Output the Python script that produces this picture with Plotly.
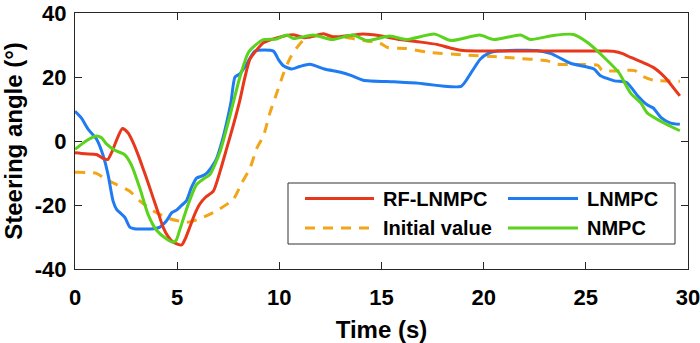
import plotly.graph_objects as go

# Time axis (s) and steering angle (deg) for each controller
t_rf = [0, 0.5, 1.05, 1.4, 1.6, 1.8, 2.05, 2.32, 2.6, 2.84, 3.1, 3.33, 3.6, 3.82, 4.05, 4.31,
        4.55, 4.8, 5.0, 5.22, 5.4, 5.62, 5.85, 6.11, 6.4, 6.77, 7.1, 7.42, 7.75, 8.07, 8.3,
        8.56, 8.9, 9.22, 9.87, 10.69, 11.2, 11.5, 12.16, 12.65, 13.5, 14.1, 15.0, 15.9, 16.8,
        17.7, 18.4, 19.0, 20.0, 22.0, 24.0, 26.0, 26.4, 26.8, 27.2, 27.8, 28.3, 28.7, 29.0,
        29.3, 29.6]
y_rf = [-3.7, -4.0, -4.2, -5.5, -5.8, -3.5, 0.5, 3.9, 2.5, -0.4, -4.5, -8.6, -13.5, -17.7,
        -22.0, -26.9, -29.8, -31.6, -32.2, -32.5, -30.5, -26.9, -23.0, -19.7, -17.5, -15.7,
        -9.5, -2.4, 5.0, 12.8, 19.5, 25.6, 28.5, 30.7, 32.2, 33.2, 32.3, 32.5, 33.5, 32.5,
        33.0, 33.4, 32.8, 31.7, 31.0, 30.2, 29.0, 28.3, 28.1, 28.1, 28.1, 28.1, 28.0, 27.3,
        26.1, 24.5, 23.0, 21.0, 19.0, 16.5, 14.1]

t_ln = [0, 0.31, 0.64, 1.05, 1.37, 1.62, 1.86, 2.05, 2.19, 2.44, 2.68, 2.9, 3.2, 3.7, 4.15,
        4.48, 4.75, 4.97, 5.2, 5.45, 5.7, 5.95, 6.2, 6.44, 6.7, 6.93, 7.2, 7.42, 7.63, 7.83,
        8.07, 8.4, 8.81, 9.71, 9.95, 10.2, 10.6, 11.0, 11.5, 12.2, 13.0, 13.5, 14.1, 15.6,
        16.7, 18.9, 19.35, 19.84, 20.2, 20.66, 22.6, 23.3, 24.25, 25.4, 25.7, 26.4, 27.0,
        27.5, 28.0, 28.3, 28.7, 29.15, 29.6]
y_ln = [9.3, 7.2, 3.7, 0.6, -4.4, -10.6, -18.7, -21.5, -22.3, -23.9, -26.9, -27.4, -27.5,
        -27.5, -26.9, -24.9, -22.3, -21.6, -20.2, -18.7, -14.5, -11.6, -11.0, -10.1, -8.0,
        -5.5, 0.0, 5.7, 12.0, 20.0, 21.0, 24.0, 28.1, 28.1, 25.5, 23.5, 22.5, 23.3, 24.0,
        22.5, 21.5, 20.5, 19.0, 18.5, 18.1, 17.1, 21.0, 25.6, 27.3, 28.1, 28.3, 27.3, 24.3,
        22.5, 20.5, 18.8, 18.3, 14.4, 11.3, 10.3, 7.2, 5.6, 5.2]

t_iv = [0, 1.05, 1.54, 2.03, 2.68, 3.17, 3.82, 4.64, 5.46, 6.11, 6.93, 7.75, 8.16, 8.56,
        8.89, 9.22, 9.54, 9.87, 10.2, 10.5, 10.86, 11.3, 11.8, 13.1, 14.3, 14.9, 15.3, 16.2,
        17.2, 19.0, 20.7, 21.5, 23.1, 23.6, 25.6, 25.8, 27.4, 27.7, 28.3, 29.6]
y_iv = [-9.8, -10.1, -12.1, -13.6, -15.7, -18.7, -21.8, -24.3, -25.4, -24.3, -21.8, -18.2,
        -13.1, -8.6, -2.4, 1.6, 8.8, 14.9, 21.0, 25.6, 29.2, 32.2, 32.8, 32.5, 31.2, 30.7,
        29.2, 28.9, 27.8, 26.9, 26.3, 25.9, 25.1, 24.0, 23.6, 22.0, 22.0, 20.5, 19.0, 18.7]

t_nm = [0, 0.56, 1.05, 1.3, 1.54, 1.95, 2.44, 2.76, 3.17, 3.58, 3.99, 4.48, 4.8, 4.95, 5.12,
        5.54, 5.95, 6.3, 6.6, 7.09, 7.58, 8.07, 8.48, 8.8, 9.22, 9.87, 10.36, 10.7, 11.67,
        12.57, 13.6, 14.3, 15.4, 16.2, 17.6, 18.4, 19.8, 20.5, 21.8, 22.3, 23.4, 24.4, 25.1,
        25.9, 26.6, 27.2, 27.7, 28.0, 28.8, 29.6]
y_nm = [-2.6, 0.1, 1.6, 1.0, -0.9, -2.9, -4.3, -7.5, -14.7, -23.0, -27.9, -30.6, -31.6,
        -31.0, -27.9, -19.8, -13.6, -11.8, -10.5, -3.5, 7.8, 20.0, 27.6, 29.8, 31.7, 31.9,
        33.1, 32.0, 33.1, 31.7, 33.1, 31.4, 32.8, 31.7, 33.4, 31.4, 33.1, 31.7, 33.1, 31.7,
        33.0, 33.3, 30.7, 26.1, 21.5, 14.9, 11.8, 8.8, 5.7, 3.2]

x_ticks = [0, 5, 10, 15, 20, 25, 30]
y_ticks = [-40, -20, 0, 20, 40]

names = ["RF-LNMPC", "LNMPC", "Initial value", "NMPC"]
colors = ["#E8381B", "#1F7BF2", "#F2A516", "#5BD21C"]
dashes = ["solid", "solid", "10px,8px", "solid"]
series = [(t_rf, y_rf), (t_ln, y_ln), (t_iv, y_iv), (t_nm, y_nm)]
draw_order = [2, 1, 0, 3]

FONT = "Liberation Sans, Arial, sans-serif"
AX = "#262626"

fig = go.Figure()
for i in draw_order:
    tx, ty = series[i]
    fig.add_trace(go.Scatter(
        x=tx, y=ty, mode="lines", name=names[i], showlegend=False,
        line=dict(color=colors[i], width=3, dash=dashes[i], shape="spline", smoothing=0.6),
    ))

W, H = 700, 343
ML, MR, MT, MB = 75, 12, 13, 74
PW, PH = W - ML - MR, H - MT - MB


def px(xp):
    return (xp - ML) / PW


def py(yp):
    return 1 - (yp - MT) / PH


# Legend drawn as a boxed two-column key
shapes = [dict(type="rect", xref="paper", yref="paper",
               x0=px(288), x1=px(675), y0=py(244), y1=py(183),
               line=dict(color="#333333", width=1), fillcolor="white", layer="above")]
annotations = []
col_x = [(305, 374, 381), (508, 578, 585)]
row_y = [198.5, 228]
for k, name in enumerate(names):
    r, c = divmod(k, 2)
    x0, x1, xt = col_x[c]
    yy = row_y[r]
    shapes.append(dict(type="line", xref="paper", yref="paper",
                       x0=px(x0), x1=px(x1), y0=py(yy), y1=py(yy), layer="above",
                       line=dict(color=colors[k], width=3, dash=dashes[k])))
    annotations.append(dict(text=name, xref="paper", yref="paper", x=px(xt), y=py(yy),
                            xanchor="left", yanchor="middle", showarrow=False,
                            font=dict(family=FONT, size=20, color="black", weight="bold")))

axis_common = dict(
    showline=True, linecolor=AX, linewidth=1, mirror="ticks",
    ticks="inside", ticklen=7, tickwidth=1, tickcolor=AX,
    showgrid=False, zeroline=False, ticklabeloverflow="allow", automargin=False,
    tickfont=dict(family=FONT, size=22, color="black", weight="bold"),
)

fig.update_layout(
    width=W, height=H,
    margin=dict(l=ML, r=MR, t=MT, b=MB),
    paper_bgcolor="white", plot_bgcolor="white",
    shapes=shapes, annotations=annotations,
    xaxis=dict(range=[0, 30], tickvals=x_ticks, ticktext=[str(v) for v in x_ticks],
               ticklabelstandoff=9,
               title=dict(text="Time (s)", standoff=19,
                          font=dict(family=FONT, size=24, color="black", weight="bold")),
               **axis_common),
    yaxis=dict(range=[-40, 40], tickvals=y_ticks, ticktext=[str(v) for v in y_ticks],
               ticklabelstandoff=3,
               title=dict(text="Steering angle (°)", standoff=10,
                          font=dict(family=FONT, size=24, color="black", weight="bold")),
               **axis_common),
)

fig.write_html("out.html")
